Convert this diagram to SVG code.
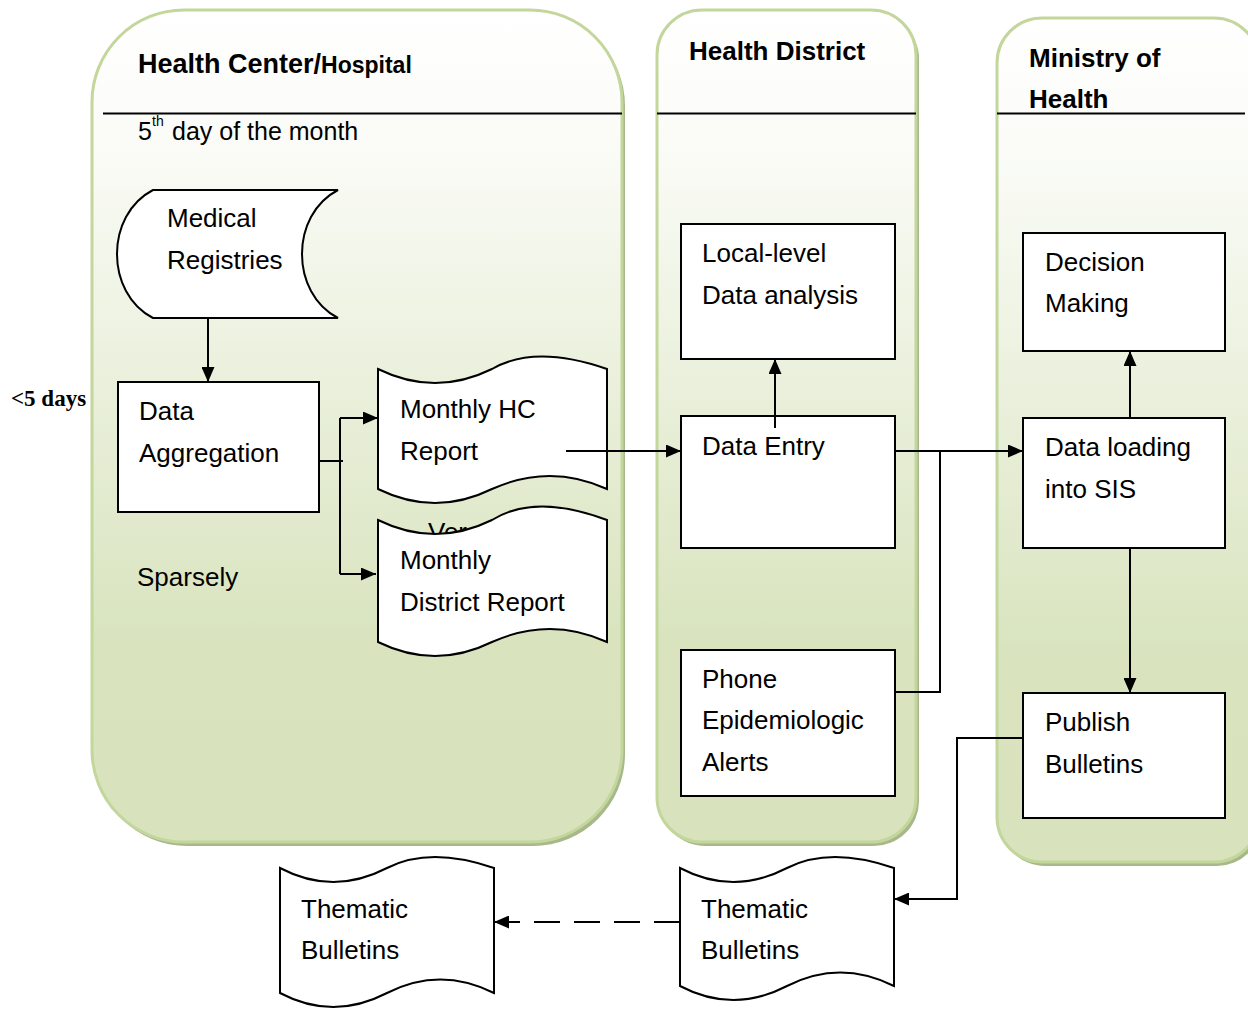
<svg xmlns="http://www.w3.org/2000/svg" width="1248" height="1010" viewBox="0 0 1248 1010">
<defs>
<linearGradient id="lg" x1="0" y1="0" x2="0" y2="1">
<stop offset="0" stop-color="#ffffff"/>
<stop offset="0.15" stop-color="#fbfcf8"/>
<stop offset="0.75" stop-color="#d9e4bf"/>
<stop offset="1" stop-color="#d8e3bd"/>
</linearGradient>
<marker id="ahb" viewBox="0 0 15 13" refX="15" refY="6.5" markerWidth="15" markerHeight="13" markerUnits="userSpaceOnUse" orient="auto">
<path d="M0,0 L15,6.5 L0,13 Z" fill="#000"/>
</marker>
</defs>
<style>
.lane{fill:url(#lg);stroke:#c3d69b;stroke-width:3}
.shadow{fill:#a8b88a}
.box{fill:#fff;stroke:#000;stroke-width:2}
.t{font-family:"Liberation Sans",Arial,sans-serif;font-size:26px;fill:#000}
.s{font-family:"Liberation Sans",Arial,sans-serif;fill:#000}
.h{font-family:"Liberation Sans",Arial,sans-serif;font-weight:bold;fill:#000}
.ln{fill:none;stroke:#000;stroke-width:2}
</style>
<rect width="1248" height="1010" fill="#fff"/>

<g id="lane-hc">
<rect class="shadow" x="95" y="14" width="530" height="832" rx="92"/>
<rect class="lane" x="92" y="10" width="530" height="832" rx="92"/>
<line x1="103" y1="113.5" x2="622" y2="113.5" stroke="#000" stroke-width="2"/>
<text class="h" x="138" y="73"><tspan font-size="27">Health Center/</tspan><tspan font-size="23">Hospital</tspan></text>
<text class="s" x="138" y="140" font-size="25">5</text>
<text class="s" x="152" y="126" font-size="14">th</text>
<text class="s" x="172" y="140" font-size="25">day of the month</text>
</g>

<g id="lane-hd">
<rect class="shadow" x="660" y="14" width="259" height="832" rx="45"/>
<rect class="lane" x="657" y="10" width="259" height="832" rx="45"/>
<line x1="657" y1="113.5" x2="916" y2="113.5" stroke="#000" stroke-width="2"/>
<text class="h" x="689" y="60" font-size="26">Health District</text>
</g>

<g id="lane-moh">
<rect class="shadow" x="1000" y="22" width="262" height="844" rx="45"/>
<rect class="lane" x="997" y="18" width="262" height="844" rx="45"/>
<line x1="997" y1="113.5" x2="1245" y2="113.5" stroke="#000" stroke-width="2"/>
<text class="h" x="1029" y="67" font-size="26">Ministry of</text>
<text class="h" x="1029" y="108" font-size="26">Health</text>
</g>

<text id="lbl-5days" x="11" y="406" font-family="Liberation Serif,'Times New Roman',serif" font-weight="bold" font-size="23" fill="#000">&lt;5 days</text>
<text id="lbl-sparsely" class="t" x="137" y="586">Sparsely</text>
<text id="lbl-ver" class="t" x="428" y="541">Ver</text>

<g id="n-medical-registries">
<path class="box" d="M153,190 L338,190 C290,215 290,293 338,318 L153,318 C105,293 105,215 153,190 Z"/>
<text class="t" x="167" y="227">Medical</text>
<text class="t" x="167" y="269">Registries</text>
</g>

<g id="n-data-aggregation">
<rect class="box" x="118" y="382" width="201" height="130"/>
<text class="t" x="139" y="420">Data</text>
<text class="t" x="139" y="462">Aggregation</text>
</g>

<g id="n-monthly-hc-report">
<path class="box" d="M378,369 Q435,397 492,369 Q535,344 607,369 L607,489 Q550,463 492,489 Q435,517 378,489 Z"/>
<text class="t" x="400" y="418">Monthly HC</text>
<text class="t" x="400" y="460">Report</text>
</g>

<g id="n-monthly-district-report">
<path class="box" d="M378,520 Q435,548 492,520 Q535,493 607,520 L607,642 Q550,616 492,642 Q435,670 378,642 Z"/>
<text class="t" x="400" y="569">Monthly</text>
<text class="t" x="400" y="611">District Report</text>
</g>

<g id="n-local-analysis">
<rect class="box" x="681" y="224" width="214" height="135"/>
<text class="t" x="702" y="262">Local-level</text>
<text class="t" x="702" y="304">Data analysis</text>
</g>

<g id="n-data-entry">
<rect class="box" x="681" y="416" width="214" height="132"/>
<text class="t" x="702" y="455">Data Entry</text>
</g>

<g id="n-phone-alerts">
<rect class="box" x="681" y="650" width="214" height="146"/>
<text class="t" x="702" y="688">Phone</text>
<text class="t" x="702" y="729">Epidemiologic</text>
<text class="t" x="702" y="771">Alerts</text>
</g>

<g id="n-decision-making">
<rect class="box" x="1023" y="233" width="202" height="118"/>
<text class="t" x="1045" y="271">Decision</text>
<text class="t" x="1045" y="312">Making</text>
</g>

<g id="n-data-loading">
<rect class="box" x="1023" y="418" width="202" height="130"/>
<text class="t" x="1045" y="456">Data loading</text>
<text class="t" x="1045" y="498">into SIS</text>
</g>

<g id="n-publish-bulletins">
<rect class="box" x="1023" y="693" width="202" height="125"/>
<text class="t" x="1045" y="731">Publish</text>
<text class="t" x="1045" y="773">Bulletins</text>
</g>

<g id="n-thematic-left">
<path class="box" d="M280,868 Q333,896 387,868 Q430,846 494,868 L494,993 Q440,966 387,993 Q333,1021 280,993 Z"/>
<text class="t" x="301" y="918">Thematic</text>
<text class="t" x="301" y="959">Bulletins</text>
</g>

<g id="n-thematic-right">
<path class="box" d="M680,868 Q733,896 787,868 Q830,846 894,868 L894,986 Q840,959 787,986 Q733,1014 680,986 Z"/>
<text class="t" x="701" y="918">Thematic</text>
<text class="t" x="701" y="959">Bulletins</text>
</g>

<g id="connectors">
<line class="ln" x1="208" y1="318" x2="208" y2="382" marker-end="url(#ahb)"/>
<line class="ln" x1="319" y1="461" x2="343" y2="461"/>
<line class="ln" x1="340" y1="418" x2="340" y2="574"/>
<line class="ln" x1="340" y1="418" x2="378" y2="418" marker-end="url(#ahb)"/>
<line class="ln" x1="340" y1="574" x2="376" y2="574" marker-end="url(#ahb)"/>
<line class="ln" x1="566" y1="451" x2="681" y2="451" marker-end="url(#ahb)"/>
<line class="ln" x1="775" y1="428" x2="775" y2="359" marker-end="url(#ahb)"/>
<line class="ln" x1="895" y1="451" x2="1023" y2="451" marker-end="url(#ahb)"/>
<polyline class="ln" points="940,451 940,692 895,692"/>
<line class="ln" x1="1130" y1="418" x2="1130" y2="351" marker-end="url(#ahb)"/>
<line class="ln" x1="1130" y1="548" x2="1130" y2="693" marker-end="url(#ahb)"/>
<polyline class="ln" points="1023,738 957,738 957,899 894,899" marker-end="url(#ahb)"/>
<line class="ln" x1="680" y1="922" x2="494" y2="922" stroke-dasharray="26,14" marker-end="url(#ahb)"/>
</g>
</svg>
